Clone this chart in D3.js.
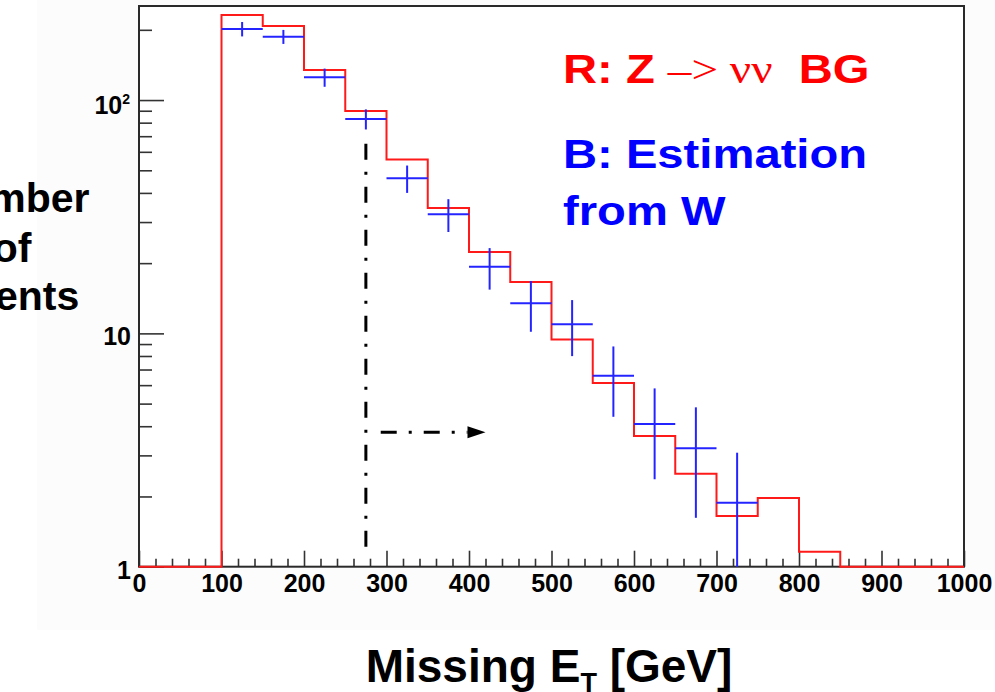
<!DOCTYPE html>
<html>
<head>
<meta charset="utf-8">
<script src="https://cdn.jsdelivr.net/npm/d3@7"></script>
<style>
  body { margin: 0; background: #ffffff; }
  svg { display: block; }
  text { font-family: "Liberation Sans", Arial, sans-serif; font-weight: bold; }
</style>
</head>
<body>
<svg id="chart" width="995" height="692"></svg>
<script>
// Missing ET histogram bin edges (GeV)
const binEdges = [0, 50, 100, 150, 200, 250, 300, 350, 400, 450, 500,
                  550, 600, 650, 700, 750, 800, 850, 900, 950, 1000];
// Z -> nu nu background, events per bin (red)
const zNuNuCounts = [0, 0, 231.6, 207.7, 134.6, 89.8, 55.6, 34.5, 22.3, 16.6,
                     9.42, 6.13, 3.63, 2.50, 1.65, 1.97, 1.16, 0, 0, 0];
// Estimation from W (blue points with errors)
const wBinCenters = [125, 175, 225, 275, 325, 375, 425, 475, 525, 575, 625, 675, 725];
const wEstimate   = [201.7, 186.9, 125.2, 83.0, 46.2, 32.4, 19.3, 13.46, 10.94, 6.59, 4.09, 3.22, 1.88];
const wError      = [14.3, 12.9, 11.2, 8.2, 6.2, 5.2, 3.9, 3.3, 2.95, 2.2, 1.72, 1.6, 1.2];
const binWidth = 50;

// Axis ticks
const xMajorTicks = [0, 100, 200, 300, 400, 500, 600, 700, 800, 900, 1000];
const xMinorTicks = [20, 40, 60, 80, 120, 140, 160, 180, 220, 240, 260, 280, 320, 340, 360, 380,
                     420, 440, 460, 480, 520, 540, 560, 580, 620, 640, 660, 680, 720, 740, 760, 780,
                     820, 840, 860, 880, 920, 940, 960, 980];
const yMajorTicks = [1, 10, 100];
const yMinorTicks = [2, 3, 4, 5, 6, 7, 8, 9, 20, 30, 40, 50, 60, 70, 80, 90, 200];

// Cut annotation: ET > 275 GeV
const cutValue = 275;
const cutSpan = [1.17, 65];
const arrowFrom = 293, arrowTo = 420, arrowLevel = 3.77;

(function draw() {
  const svg = d3.select("#chart");
  const pLeft = 139, pRight = 964, pTop = 6, pBottom = 566.7;

  const x = d3.scaleLinear().domain([0, 1000]).range([pLeft, pRight]);
  const y = d3.scaleLog().domain([1, 253]).range([pBottom, pTop]);
  const yc = v => y(Math.max(v, 1));

  // canvas tint
  svg.append("rect").attr("x", 37).attr("y", 0).attr("width", 958).attr("height", 630)
    .attr("fill", "#fcfcfc");
  svg.append("rect").attr("x", pLeft).attr("y", pTop).attr("width", pRight - pLeft).attr("height", pBottom - pTop)
    .attr("fill", "#ffffff");

  // axes
  const xMinor = svg.append("g").attr("transform", `translate(0,${pBottom})`)
    .call(d3.axisBottom(x).tickValues(xMinorTicks).tickSize(-8).tickFormat(""));
  const xMajor = svg.append("g").attr("transform", `translate(0,${pBottom})`)
    .call(d3.axisBottom(x).tickValues(xMajorTicks).tickSize(-16).tickFormat(d3.format("d")));
  xMajor.selectAll("text").attr("y", 25).attr("dy", null)
    .attr("font-size", 25).attr("fill", "#000");

  const yMinor = svg.append("g").attr("transform", `translate(${pLeft},0)`)
    .call(d3.axisLeft(y).tickValues(yMinorTicks).tickSize(-13).tickFormat(""));
  const yMajor = svg.append("g").attr("transform", `translate(${pLeft},0)`)
    .call(d3.axisLeft(y).tickValues(yMajorTicks).tickSize(-25).tickFormat(d3.format("d")));
  yMajor.selectAll("text").attr("x", -8).attr("y", 11.5).attr("dy", null)
    .attr("font-size", 25).attr("fill", "#000")
    .each(function(d) {
      if (d === 100) {
        const t = d3.select(this).text(null).attr("y", 13.3).attr("x", -9);
        t.append("tspan").text("10");
        t.append("tspan").attr("font-size", 14).attr("dy", -10).text("2");
      }
    });

  [xMinor, xMajor, yMinor, yMajor].forEach(g => {
    g.select(".domain").remove();
    g.selectAll(".tick line").attr("stroke", "#333").attr("stroke-width", 1.6);
    g.selectAll("text").attr("font-family", "Liberation Sans, Arial, sans-serif").attr("font-weight", "bold");
  });

  // frame
  svg.append("rect").attr("x", pLeft).attr("y", pTop).attr("width", pRight - pLeft).attr("height", pBottom - pTop)
    .attr("fill", "none").attr("stroke", "#2a2a2a").attr("stroke-width", 2);

  // red histogram outline (empty bins run along the floor)
  const stepPts = [];
  zNuNuCounts.forEach((v, i) => {
    stepPts.push([binEdges[i], v]);
    stepPts.push([binEdges[i + 1], v]);
  });
  svg.append("path")
    .attr("d", d3.line().x(d => x(d[0])).y(d => yc(d[1]))(stepPts))
    .attr("fill", "none").attr("stroke", "#ff1a1a").attr("stroke-width", 2);

  // blue estimation crosses
  const cross = svg.append("g").attr("stroke", "#2424ff").attr("stroke-width", 2);
  wBinCenters.forEach((c, i) => {
    const v = wEstimate[i], e = wError[i];
    cross.append("line")
      .attr("x1", x(c - binWidth / 2)).attr("x2", x(c + binWidth / 2))
      .attr("y1", y(v)).attr("y2", y(v));
    cross.append("line")
      .attr("x1", x(c)).attr("x2", x(c))
      .attr("y1", y(v + e)).attr("y2", yc(v - e));
  });

  // cut line and arrow
  svg.append("line")
    .attr("x1", x(cutValue)).attr("x2", x(cutValue))
    .attr("y1", y(cutSpan[1])).attr("y2", y(cutSpan[0]))
    .attr("stroke", "#000").attr("stroke-width", 3).attr("stroke-dasharray", "16,12,3,12");
  const headLen = 18, headHalf = 6;
  const ay = y(arrowLevel);
  svg.append("line")
    .attr("x1", x(arrowFrom)).attr("x2", x(arrowTo) - headLen)
    .attr("y1", ay).attr("y2", ay)
    .attr("stroke", "#000").attr("stroke-width", 3).attr("stroke-dasharray", "16,12,3,12");
  svg.append("path")
    .attr("d", `M${x(arrowTo)},${ay} L${x(arrowTo) - headLen},${ay - headHalf} L${x(arrowTo) - headLen},${ay + headHalf} Z`)
    .attr("fill", "#000");

  // axis titles
  const yTitle = svg.append("text").attr("text-anchor", "middle").attr("font-size", 41).attr("fill", "#000");
  [["Number", 212], ["of", 261.5], ["Events", 310]].forEach(([s, by]) =>
    yTitle.append("tspan").attr("x", 12).attr("y", by).text(s));

  const xTitle = svg.append("text").attr("x", 549).attr("y", 681.7)
    .attr("text-anchor", "middle").attr("font-size", 46).attr("fill", "#000");
  xTitle.append("tspan").text("Missing E");
  xTitle.append("tspan").attr("font-size", 27).attr("dy", 10).text("T");
  xTitle.append("tspan").attr("dy", -10).text(" [GeV]");

  // legend text
  const legend = [
    { y: 83, color: "#ff0000", parts: [["R: Z ", "sans"], ["\u2013> \u03bd\u03bd", "serif"], ["  BG", "sans"]] },
    { y: 168, color: "#0000ff", parts: [["B: Estimation", "sans"]] },
    { y: 225, color: "#0000ff", parts: [["from W", "sans"]] }
  ];
  legend.forEach(l => {
    const t = svg.append("text")
      .attr("transform", `translate(563,${l.y}) scale(1.18,1)`)
      .attr("font-size", 40).attr("fill", l.color)
      .attr("xml:space", "preserve").style("white-space", "pre");
    l.parts.forEach(([s, f]) => {
      const sp = t.append("tspan").text(s);
      if (f === "serif") sp.attr("font-family", "Liberation Serif, Times New Roman, serif").attr("font-weight", "normal");
    });
  });
})();
</script>
</body>
</html>
